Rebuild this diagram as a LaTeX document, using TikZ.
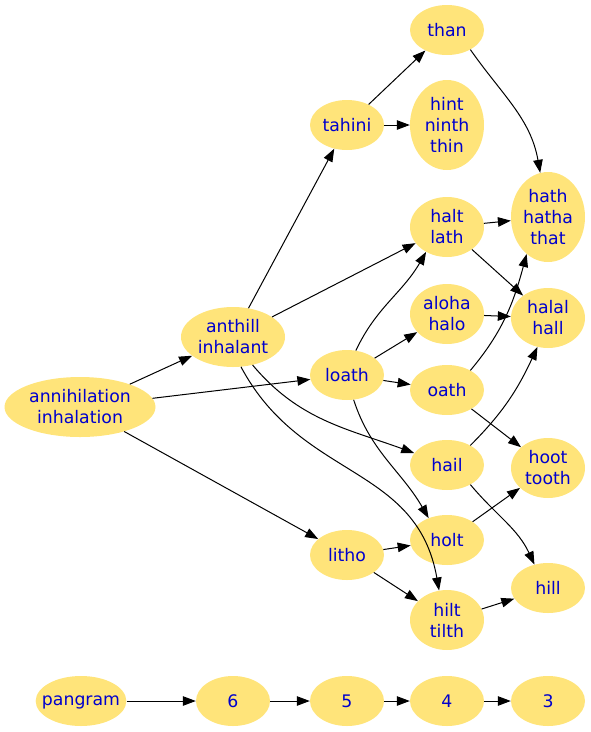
\documentclass[tikz,border=0pt]{standalone}
\usepackage{fontspec}
\setmainfont{DejaVu Sans}
\usetikzlibrary{shapes.geometric,arrows.meta}
\definecolor{nodefill}{RGB}{255,228,122}
\definecolor{nodetext}{RGB}{0,0,205}
\tikzset{
  nd/.style={ellipse, fill=nodefill, text=nodetext, inner sep=0pt, align=center,
    minimum width=74pt, minimum height=50pt, font=\fontsize{17.3}{21}\selectfont},
  ed/.style={draw=black, line width=1pt, -{Triangle[length=13pt,width=9.5pt]}}
}
\begin{document}
\begin{tikzpicture}[x=1pt,y=1pt]
\useasboundingbox (0,0) rectangle (591,-732);
\node[nd, minimum width=151pt, minimum height=60pt] (ann) at (80,-407) {annihilation\\inhalation};
\node[nd, minimum width=104pt, minimum height=60pt] (ant) at (233,-337) {anthill\\inhalant};
\node[nd] (tah) at (347,-125) {tahini};
\node[nd] (than) at (447,-30) {than};
\node[nd, minimum height=90pt] (hint) at (447,-125) {hint\\ninth\\thin};
\node[nd, minimum height=60pt] (halt) at (447,-227) {halt\\lath};
\node[nd, minimum height=90pt] (hath) at (548,-217) {hath\\hatha\\that};
\node[nd, minimum height=60pt] (aloha) at (447,-314) {aloha\\halo};
\node[nd, minimum height=60pt] (halal) at (548,-318) {halal\\hall};
\node[nd] (loath) at (347,-375) {loath};
\node[nd] (oath) at (447,-390) {oath};
\node[nd] (hail) at (447,-465) {hail};
\node[nd, minimum height=60pt] (hoot) at (548,-468) {hoot\\tooth};
\node[nd] (litho) at (347,-555) {litho};
\node[nd] (holt) at (447,-540) {holt};
\node[nd, minimum height=60pt] (hilt) at (447,-620) {hilt\\tilth};
\node[nd] (hill) at (548,-588) {hill};
\node[nd, inner xsep=-7pt, minimum width=90pt] (pan) at (81,-701) {pangram\vphantom{h}};
\node[nd] (n6) at (233,-701) {6};
\node[nd] (n5) at (347,-701) {5};
\node[nd] (n4) at (447,-701) {4};
\node[nd] (n3) at (548,-701) {3};

\draw[ed] (ann) -- (ant);
\draw[ed] (ann) -- (loath);
\draw[ed] (ann) -- (litho);
\draw[ed] (ant) -- (tah);
\draw[ed] (ant) -- (halt);
\draw[ed] (ant.-55) to[out=-50,in=160] (hail);
\draw[ed] (ant.-75) to[out=-62,in=100,looseness=1.1] (hilt.105);
\draw[ed] (tah) -- (than);
\draw[ed] (tah) -- (hint);
\draw[ed] (than.-40) to[out=-55,in=100] (hath.100);
\draw[ed] (halt) -- (hath);
\draw[ed] (halt) -- (halal);
\draw[ed] (loath.70) to[out=65,in=-120] (halt.-130);
\draw[ed] (loath) -- (aloha);
\draw[ed] (loath) -- (oath);
\draw[ed] (loath.-75) to[out=-72,in=120] (holt.130);
\draw[ed] (aloha) -- (halal);
\draw[ed] (oath.40) to[out=50,in=-105] (hath.-120);
\draw[ed] (oath) -- (hoot);
\draw[ed] (hail.40) to[out=45,in=-115] (halal.-110);
\draw[ed] (hail.-40) to[out=-50,in=115] (hill.120);
\draw[ed] (holt) -- (hoot);
\draw[ed] (litho) -- (holt);
\draw[ed] (litho) -- (hilt);
\draw[ed] (hilt) -- (hill);
\draw[ed] (pan) -- (n6);
\draw[ed] (n6) -- (n5);
\draw[ed] (n5) -- (n4);
\draw[ed] (n4) -- (n3);
\end{tikzpicture}
\end{document}
